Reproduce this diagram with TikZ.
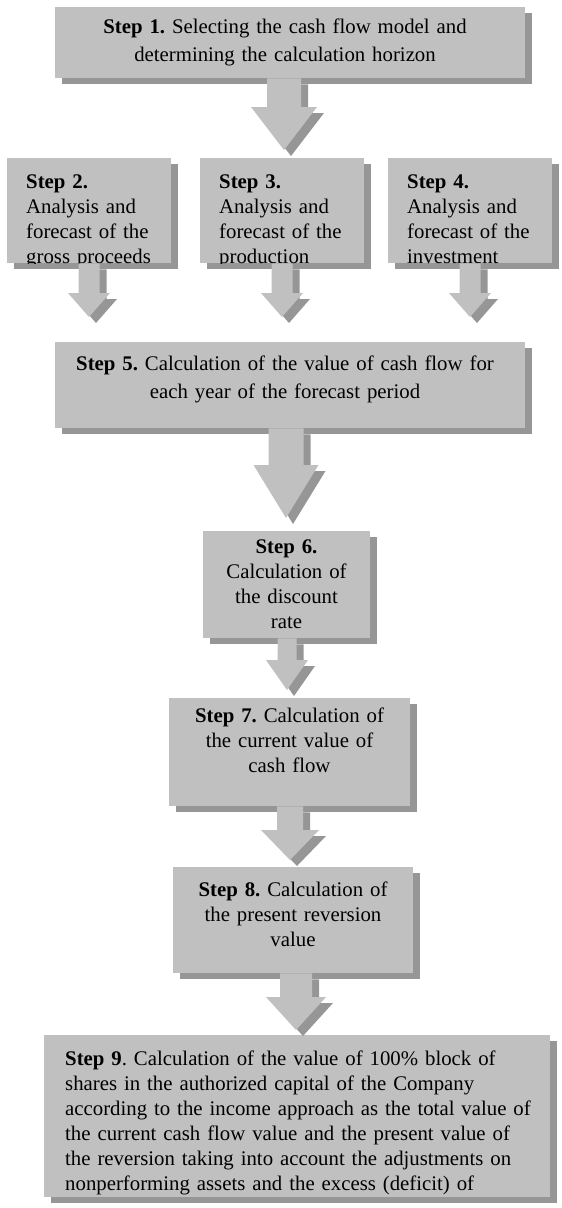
\documentclass[tikz,border=0pt]{standalone}
\usepackage{fontspec}
\setmainfont{Liberation Serif}
\usetikzlibrary{calc,shadows}
\definecolor{boxgray}{RGB}{192,192,192}
\definecolor{shadowgray}{RGB}{150,150,150}
% block arrow: #1 source node, #2 target node, #3 centre x, #4 head length,
% #5 gap before target, #6 shaft half width, #7 head half width
\newcommand\barrow[7]{%
  \foreach \dx/\dy/\col in {7/6/shadowgray,0/0/boxgray}{%
    \fill[\col] let \p1=(#1.south), \p2=(#2.north) in
      (#3-#6+\dx,\y1-\dy) -- (#3+#6+\dx,\y1-\dy) -- (#3+#6+\dx,\y2+#5+#4-\dy)
      -- (#3+#7+\dx,\y2+#5+#4-\dy) -- (#3+\dx,\y2+#5-\dy)
      -- (#3-#7+\dx,\y2+#5+#4-\dy) -- (#3-#6+\dx,\y2+#5+#4-\dy) -- cycle;
  }}
\begin{document}
\begin{tikzpicture}[x=1pt,y=1pt,
  box/.style={fill=boxgray, draw=none, inner sep=0pt, anchor=north west,
    drop shadow={shadow xshift=7pt, shadow yshift=-6pt, fill=shadowgray, opacity=1}},
  txt/.style={inner sep=0pt, text=black, font=\fontsize{20.8}{25}\selectfont\frenchspacing},
  wide/.style={font=\fontsize{20.8}{28.5}\selectfont\frenchspacing},
  ctr/.style={txt, align=center, text width=470pt, anchor=base},
  lft/.style={txt, align=left, text width=520pt, anchor=base west}]
\useasboundingbox (0,0) rectangle (562,-1208);

% boxes
\node[box, minimum width=470pt, minimum height=71pt]  (b1) at (55,-7) {};
\node[box, minimum width=164pt, minimum height=105pt] (b2) at (7,-158) {};
\node[box, minimum width=164pt, minimum height=105pt] (b3) at (200,-158) {};
\node[box, minimum width=164pt, minimum height=105pt] (b4) at (388,-158) {};
\node[box, minimum width=470pt, minimum height=86pt]  (b5) at (55,-342) {};
\node[box, minimum width=167pt, minimum height=107pt] (b6) at (203,-531) {};
\node[box, minimum width=241pt, minimum height=108pt] (b7) at (169,-698) {};
\node[box, minimum width=240pt, minimum height=106pt] (b8) at (173,-867) {};
\node[box, minimum width=506pt, minimum height=162pt] (b9) at (44,-1035) {};

% texts
\node[ctr, wide] (t1) at (285,-33) {\textbf{Step 1.} Selecting the cash flow model and\\determining the calculation horizon};
\begin{scope}
  \clip (b2.north west) rectangle (b2.south east);
  \node[lft] (t2) at (26,-188) {\textbf{Step 2.}\\Analysis and\\forecast of the\\gross proceeds};
\end{scope}
\begin{scope}
  \clip (b3.north west) rectangle (b3.south east);
  \node[lft] (t3) at (219,-188) {\textbf{Step 3.}\\Analysis and\\forecast of the\\production};
\end{scope}
\begin{scope}
  \clip (b4.north west) rectangle (b4.south east);
  \node[lft] (t4) at (407,-188) {\textbf{Step 4.}\\Analysis and\\forecast of the\\investment};
\end{scope}
\node[ctr, wide] (t5) at (285,-370) {\textbf{Step 5.} Calculation of the value of cash flow for\\each year of the forecast period};
\node[ctr] (t6) at (286.5,-553) {\textbf{Step 6.}\\Calculation of\\the discount\\rate};
\node[ctr] (t7) at (289.5,-722) {\textbf{Step 7.} Calculation of\\the current value of\\cash flow};
\node[ctr] (t8) at (293,-896) {\textbf{Step 8.} Calculation of\\the present reversion\\value};
\node[lft] (t9) at (65,-1065) {\textbf{Step 9}. Calculation of the value of 100\% block of\\shares in the authorized capital of the Company\\according to the income approach as the total value of\\the current cash flow value and the present value of\\the reversion taking into account the adjustments on\\nonperforming assets and the excess (deficit) of};

% block arrows
\barrow{b1}{b3}{284}{43}{8}{17}{33}
\barrow{b2}{b5}{89}{24}{25}{10.5}{21}
\barrow{b3}{b5}{282}{24}{25}{10.5}{21}
\barrow{b4}{b5}{470}{24}{25}{10.5}{21}
\barrow{b5}{b6}{286}{53}{13}{17.5}{32.5}
\barrow{b6}{b7}{287}{30}{8}{9.5}{21}
\barrow{b7}{b8}{290}{30}{7}{13}{29}
\barrow{b8}{b9}{296}{33}{5}{16}{30}
\end{tikzpicture}
\end{document}
